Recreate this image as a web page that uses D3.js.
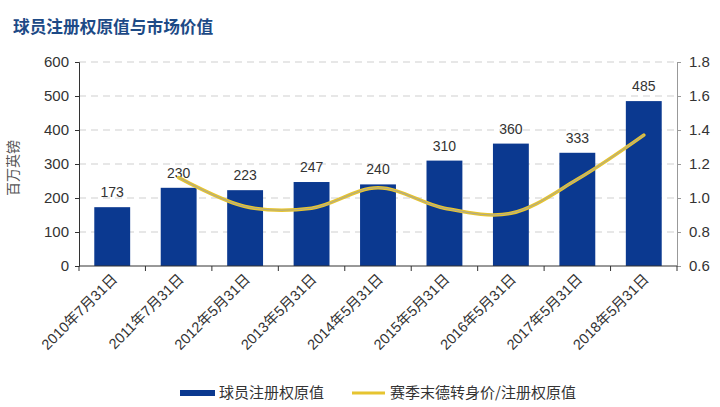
<!DOCTYPE html>
<html>
<head>
  <meta charset="utf-8">
  <title>球员注册权原值与市场价值</title>
  <script src="https://d3js.org/d3.v7.min.js"></script>
  <style>
    body { margin: 0; background: #fff; }
    svg { font-family: "Liberation Sans", "Noto Sans CJK SC", sans-serif; }
    .tick text { fill: #333; }
  </style>
</head>
<body>
  <svg id="chart"></svg>
  <script>
    // data
    var dates = ["2010年7月31日", "2011年7月31日", "2012年5月31日", "2013年5月31日", "2014年5月31日",
                 "2015年5月31日", "2016年5月31日", "2017年5月31日", "2018年5月31日"];
    var registration = [173, 230, 223, 247, 240, 310, 360, 333, 485];
    var ratio = [null, 1.12, 0.95, 0.94, 1.06, 0.94, 0.91, 1.11, 1.37];
    var leftTicks = [0, 100, 200, 300, 400, 500, 600];
    var rightTicks = [0.6, 0.8, 1.0, 1.2, 1.4, 1.6, 1.8];

    var W = 720, H = 407;
    var margin = {top: 62, right: 43, bottom: 141, left: 79};
    var width = W - margin.left - margin.right;
    var height = H - margin.top - margin.bottom;

    var svg = d3.select("#chart").attr("width", W).attr("height", H);

    // title
    svg.append("text")
        .attr("x", 13)
        .attr("y", 33)
        .style("font-family", "'Noto Sans CJK SC', sans-serif")
        .style("font-size", "16.7px")
        .style("font-weight", "bold")
        .style("fill", "#1d4a86")
        .text("球员注册权原值与市场价值");

    var g = svg.append("g")
        .attr("transform", "translate(" + margin.left + "," + margin.top + ")");

    var x = d3.scaleBand().domain(dates).range([0, width])
        .paddingInner(0.46).paddingOuter(0.23);
    var y = d3.scaleLinear().domain([0, 600]).range([height, 0]);
    var y2 = d3.scaleLinear().domain([0.6, 1.8]).range([height, 0]);

    // dashed grid
    g.selectAll(".grid")
        .data(leftTicks.slice(1))
        .enter()
        .append("line")
        .attr("x1", 0)
        .attr("x2", width)
        .attr("y1", d => y(d))
        .attr("y2", d => y(d))
        .style("stroke", "#cfcfcf")
        .style("stroke-width", 1.2)
        .style("stroke-dasharray", "7,5");

    // bars
    g.selectAll(".bar")
        .data(registration)
        .enter()
        .append("rect")
        .attr("x", (d, i) => x(dates[i]))
        .attr("y", d => y(d))
        .attr("width", x.bandwidth())
        .attr("height", d => height - y(d))
        .style("fill", "#0b3990");

    // value labels
    g.selectAll(".val")
        .data(registration)
        .enter()
        .append("text")
        .attr("x", (d, i) => x(dates[i]) + x.bandwidth() / 2)
        .attr("y", d => y(d) - 10)
        .attr("text-anchor", "middle")
        .style("font-size", "14px")
        .style("fill", "#333")
        .text(d => d);

    // smooth ratio line
    var line = d3.line()
        .defined(d => d != null)
        .x((d, i) => x(dates[i]) + x.bandwidth() / 2)
        .y(d => y2(d))
        .curve(d3.curveCatmullRom);

    g.append("path")
        .datum(ratio)
        .attr("d", line)
        .style("fill", "none")
        .style("stroke", "#e6c430")
        .style("stroke-width", 3.5)
        .style("stroke-linecap", "round");
    g.append("path")
        .datum(ratio)
        .attr("d", line)
        .style("fill", "none")
        .style("stroke", "#b0aa88")
        .style("stroke-width", 1.1);

    // left axis
    var yAxis = g.append("g")
        .call(d3.axisLeft(y).tickValues(leftTicks).tickSize(4).tickPadding(6));
    yAxis.select(".domain").style("stroke", "#333");
    yAxis.selectAll(".tick line").style("stroke", "#333");
    yAxis.selectAll("text").style("font-size", "15px");

    // right axis
    var y2Axis = g.append("g")
        .attr("transform", "translate(" + width + ",0)")
        .call(d3.axisRight(y2).tickValues(rightTicks).tickFormat(d3.format(".1f")).tickSize(4).tickPadding(8));
    y2Axis.select(".domain").style("stroke", "#999");
    y2Axis.selectAll(".tick line").style("stroke", "#999");
    y2Axis.selectAll("text").style("font-size", "15px");

    // bottom axis, ticks between categories
    var xAxis = g.append("g")
        .attr("transform", "translate(0," + height + ")");
    xAxis.append("line")
        .attr("x1", 0).attr("x2", width)
        .style("stroke", "#333");
    xAxis.selectAll(".sep")
        .data(d3.range(dates.length + 1))
        .enter()
        .append("line")
        .attr("x1", i => i * x.step())
        .attr("x2", i => i * x.step())
        .attr("y1", 0)
        .attr("y2", 5)
        .style("stroke", "#333");
    xAxis.selectAll(".lbl")
        .data(dates)
        .enter()
        .append("text")
        .attr("transform", d => "translate(" + (x(d) + x.bandwidth() / 2 + 6) + ",14) rotate(-45)")
        .attr("text-anchor", "end")
        .style("font-size", "14.5px")
        .style("fill", "#333")
        .text(d => d);

    // y axis title
    svg.append("text")
        .attr("transform", "translate(18,168) rotate(-90)")
        .attr("text-anchor", "middle")
        .style("font-family", "'Noto Sans CJK SC', sans-serif")
        .style("font-size", "14px")
        .style("fill", "#555")
        .text("百万英镑");

    // legend
    var legend = svg.append("g").attr("transform", "translate(180,393)");
    legend.append("rect")
        .attr("x", 0).attr("y", -3)
        .attr("width", 35).attr("height", 6)
        .style("fill", "#0b3990");
    legend.append("text")
        .attr("x", 39).attr("y", 5)
        .style("font-family", "'Noto Sans CJK SC', sans-serif")
        .style("font-size", "15px")
        .style("fill", "#333")
        .text("球员注册权原值");
    legend.append("line")
        .attr("x1", 172).attr("x2", 205)
        .attr("y1", 0).attr("y2", 0)
        .style("stroke", "#e6c430")
        .style("stroke-width", 3);
    legend.append("text")
        .attr("x", 210).attr("y", 5)
        .style("font-family", "'Noto Sans CJK SC', sans-serif")
        .style("font-size", "15px")
        .style("fill", "#333")
        .text("赛季末德转身价/注册权原值");
  </script>
</body>
</html>
